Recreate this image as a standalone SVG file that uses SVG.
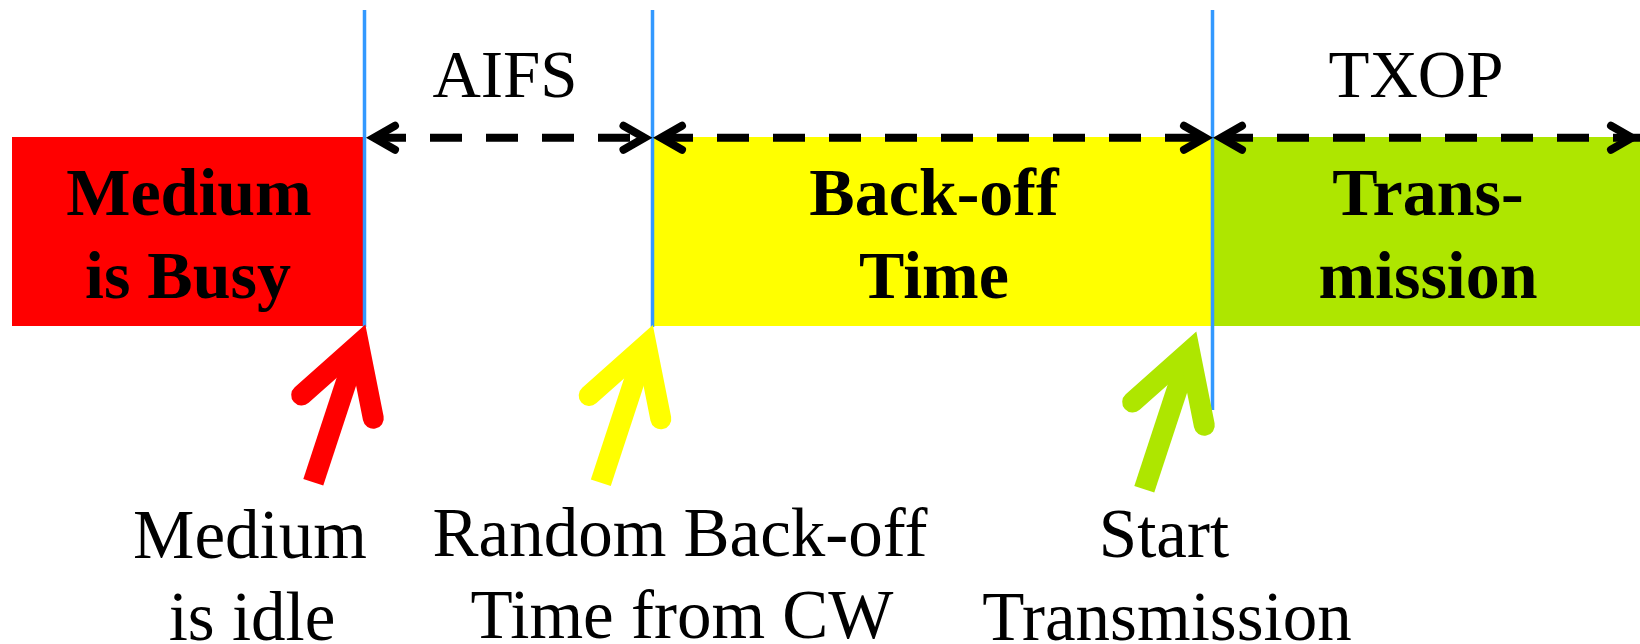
<svg xmlns="http://www.w3.org/2000/svg" width="1640" height="644" viewBox="0 0 1640 644">
<style>
.lbl{font-family:"Liberation Serif","Times New Roman",serif;font-size:67px;fill:#000;text-anchor:middle}
.bot{font-size:69px}
.blbl{font-family:"Liberation Serif","Times New Roman",serif;font-size:68px;font-weight:bold;fill:#000;text-anchor:middle}
.vline{stroke:#3399ff;stroke-width:3.5;fill:none}
.dash{stroke:#000;stroke-width:8;stroke-dasharray:32 24;fill:none}
.chev{stroke:#000;stroke-width:8;fill:none;stroke-linecap:round;stroke-linejoin:miter}
.shaft{stroke-width:21;fill:none;stroke-linecap:butt}
.head{stroke-width:21;fill:none;stroke-linecap:round;stroke-linejoin:miter;stroke-miterlimit:4}
</style>
<rect width="1640" height="644" fill="#fff"/>
<g id="busy">
<rect x="12" y="137" width="352" height="189" fill="#ff0000"/>
<text class="blbl" x="189" y="215">Medium</text>
<text class="blbl" x="188" y="298">is Busy</text>
</g>
<g id="backoff">
<rect x="653" y="137" width="560" height="189" fill="#ffff00"/>
<text class="blbl" x="934" y="215">Back-off</text>
<text class="blbl" x="934" y="298">Time</text>
</g>
<g id="transmission">
<rect x="1213" y="137" width="427" height="189" fill="#aee600"/>
<text class="blbl" x="1428" y="215">Trans-</text>
<text class="blbl" x="1428" y="298">mission</text>
</g>
<g id="boundaries">
<line class="vline" x1="364.5" y1="10" x2="364.5" y2="327"/>
<line class="vline" x1="652.5" y1="10" x2="652.5" y2="327"/>
<line class="vline" x1="1212.5" y1="10" x2="1212.5" y2="410"/>
</g>
<g id="aifs">
<text class="lbl" x="505" y="97">AIFS</text>
</g>
<g id="txop">
<text class="lbl" x="1416" y="97">TXOP</text>
</g>
<g id="connectors">
<line class="dash" x1="374" y1="137.7" x2="644.5" y2="137.7"/>
<path class="chev" d="M395,125.7 L374,137.7 L395,149.7"/>
<path class="chev" d="M623.5,125.7 L644.5,137.7 L623.5,149.7"/>
<line class="dash" x1="661" y1="137.7" x2="1205" y2="137.7"/>
<path class="chev" d="M682,125.7 L661,137.7 L682,149.7"/>
<path class="chev" d="M1184,125.7 L1205,137.7 L1184,149.7"/>
<line class="dash" x1="1221" y1="137.7" x2="1640" y2="137.7"/>
<path class="chev" d="M1242,125.7 L1221,137.7 L1242,149.7"/>
<path class="chev" d="M1611,125.7 L1632,137.7 L1611,149.7"/>
</g>
<g id="arrow-idle" stroke="#ff0000">
<line class="shaft" x1="313.3" y1="482.3" x2="358.6" y2="344.5"/>
<polyline class="head" points="301.7,395 358.6,344.5 373.3,418.3"/>
</g>
<g id="arrow-random" stroke="#ffff00">
<line class="shaft" x1="600.8" y1="482.8" x2="646.1" y2="345"/>
<polyline class="head" points="589.2,395.5 646.1,345 660.8,418.8"/>
</g>
<g id="arrow-start" stroke="#aee600">
<line class="shaft" x1="1144.3" y1="489.3" x2="1189.6" y2="351.5"/>
<polyline class="head" points="1132.7,402 1189.6,351.5 1204.3,425.3"/>
</g>
<g id="label-idle">
<text class="lbl bot" x="250" y="558">Medium</text>
<text class="lbl bot" x="252" y="640">is idle</text>
</g>
<g id="label-random">
<text class="lbl bot" x="680" y="556">Random Back-off</text>
<text class="lbl bot" x="682" y="638">Time from CW</text>
</g>
<g id="label-start">
<text class="lbl bot" x="1164" y="557">Start</text>
<text class="lbl bot" x="1167" y="640">Transmission</text>
</g>
</svg>
